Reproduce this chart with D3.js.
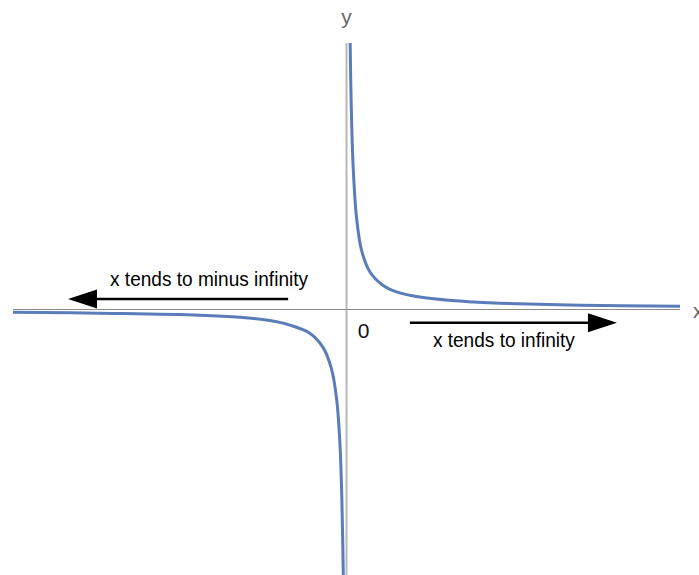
<!DOCTYPE html>
<html>
<head>
<meta charset="utf-8">
<script src="https://cdn.jsdelivr.net/npm/d3@7/dist/d3.min.js"></script>
<style>
  html, body { margin: 0; padding: 0; background: #fff; }
  svg { display: block; }
  text { font-family: "Liberation Sans", Arial, sans-serif; }
</style>
</head>
<body>
<div id="chart"></div>
<script>
// Right branch (x > 0)
const rightX = [0.11, 0.14, 0.2, 0.3, 0.45, 0.7, 1.1, 1.5, 2.3, 3.8, 4.6, 7, 10];
const rightY = [8.88, 6.9, 4.75, 3.07, 1.98, 1.26, 0.8, 0.59, 0.40, 0.25, 0.21, 0.14, 0.11];
// Left branch (x < 0)
const leftX = [-10, -7, -4.4, -3.2, -2.3, -1.7, -1.1, -0.7, -0.45, -0.3, -0.2, -0.14, -0.096];
const leftY = [-0.093, -0.13, -0.19, -0.26, -0.37, -0.52, -0.79, -1.27, -1.98, -2.95, -4.4, -6.3, -8.85];

// Axis extents
const xDomain = [-10, 10];
const yDomain = [-9, 9];
const yAxisExtent = [8.88, -8.85];
const axisLabels = ["x", "y"];
const originLabel = "0";

// Annotations (data coordinates)
const arrowLabels = ["x tends to minus infinity", "x tends to infinity"];
const arrowFromX = [-1.75, 1.90];
const arrowToX = [-8.35, 8.11];
const arrowY = [0.35, -0.44];
const labelX = [-7.09, 2.59];
const labelY = [0.78, -1.25];
const labelLen = [198, 142];

const W = 699, H = 575;
const svg = d3.select("#chart").append("svg").attr("width", W).attr("height", H);

const x = d3.scaleLinear().domain(xDomain).range([13, 680]);
const y = d3.scaleLinear().domain(yDomain).range([579.5, 39.5]);

// y axis
svg.append("line")
  .attr("x1", x(0)).attr("x2", x(0))
  .attr("y1", y(yAxisExtent[0])).attr("y2", y(yAxisExtent[1]))
  .attr("stroke", "#b8b8b8").attr("stroke-width", 2);
// x axis
svg.append("line")
  .attr("x1", x(xDomain[0])).attr("x2", x(xDomain[1]))
  .attr("y1", y(0)).attr("y2", y(0))
  .attr("stroke", "#8a8a8a").attr("stroke-width", 1.2);

// axis labels
svg.append("text").text(axisLabels[1])
  .attr("x", x(0)).attr("y", 24).attr("text-anchor", "middle")
  .attr("font-size", 21).attr("fill", "#666");
svg.append("text").text(axisLabels[0])
  .attr("x", x(xDomain[1]) + 13).attr("y", y(0) + 8)
  .attr("font-size", 21).attr("fill", "#666");

// origin label
svg.append("text").text(originLabel)
  .attr("x", x(0.34)).attr("y", y(-0.95))
  .attr("font-size", 21).attr("fill", "#111");

// curves
const line = d3.line().x(d => x(d[0])).y(d => y(d[1])).curve(d3.curveCatmullRom.alpha(0.5));
const rightData = rightX.map((v, i) => [v, rightY[i]]);
const leftData = leftX.map((v, i) => [v, leftY[i]]);
svg.append("path").datum(rightData).attr("d", line)
  .attr("fill", "none").attr("stroke", "#5a7db9").attr("stroke-width", 3);
svg.append("path").datum(leftData).attr("d", line)
  .attr("fill", "none").attr("stroke", "#5a7db9").attr("stroke-width", 3);

// arrows
arrowLabels.forEach((lab, i) => {
  const x0 = x(arrowFromX[i]), x1 = x(arrowToX[i]), yy = y(arrowY[i]);
  const dir = Math.sign(x1 - x0);
  const headLen = 29, headHalf = 9.5;
  svg.append("line")
    .attr("x1", x0).attr("x2", x1 - dir * headLen * 0.5)
    .attr("y1", yy).attr("y2", yy)
    .attr("stroke", "#000").attr("stroke-width", 2.5);
  svg.append("path")
    .attr("d", `M${x1},${yy} L${x1 - dir * headLen},${yy - headHalf} L${x1 - dir * headLen},${yy + headHalf} Z`)
    .attr("fill", "#000");
  svg.append("text").text(lab)
    .attr("x", x(labelX[i])).attr("y", y(labelY[i]))
    .attr("font-size", 20).attr("fill", "#000")
    .attr("textLength", labelLen[i]).attr("lengthAdjust", "spacingAndGlyphs");
});
</script>
</body>
</html>
